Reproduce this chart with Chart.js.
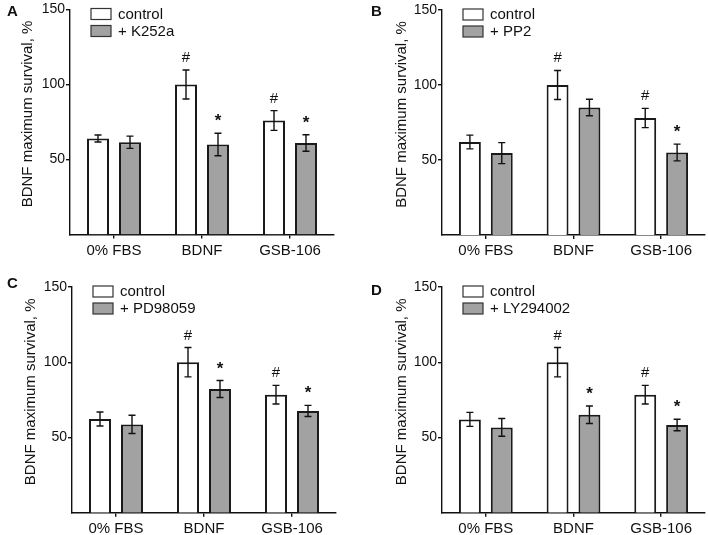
<!DOCTYPE html>
<html>
<head>
<meta charset="utf-8">
<script src="https://cdn.jsdelivr.net/npm/chart.js@4.4.1/dist/chart.umd.min.js"></script>
<style>
  html, body { margin: 0; padding: 0; background: #fff; }
  #wrap { position: relative; width: 708px; height: 535px; overflow: hidden; }
  canvas { position: absolute; }
</style>
</head>
<body>
<div id="wrap">
  <canvas id="pA" width="354" height="267" style="left:0;top:0"></canvas>
  <canvas id="pB" width="354" height="267" style="left:354px;top:0"></canvas>
  <canvas id="pC" width="354" height="268" style="left:0;top:267px"></canvas>
  <canvas id="pD" width="354" height="268" style="left:354px;top:267px"></canvas>
</div>
<script>
"use strict";

const categories = ["0% FBS", "BDNF", "GSB-106"];
const yTicks = [50, 100, 150];
const yTitle = "BDNF maximum survival, %";

// panel A: K252a
const ctrlA = [64, 100, 76];
const ctrlErrA = [2.3, 9.7, 6.6];
const ctrlMarkA = ["", "#", "#"];
const drugA = [61.5, 60, 61];
const drugErrA = [4.1, 7.5, 5.5];
const drugMarkA = ["", "*", "*"];

// panel B: PP2
const ctrlB = [62, 100, 78];
const ctrlErrB = [4.6, 9.7, 6.4];
const ctrlMarkB = ["", "#", "#"];
const drugB = [54.6, 85, 55];
const drugErrB = [7, 5.5, 5.6];
const drugMarkB = ["", "", "*"];

// panel C: PD98059
const ctrlC = [62.3, 100, 78.4];
const ctrlErrC = [4.65, 9.75, 6.2];
const ctrlMarkC = ["", "#", "#"];
const drugC = [58.7, 82.2, 67.6];
const drugErrC = [6.1, 5.65, 3.7];
const drugMarkC = ["", "*", "*"];

// panel D: LY294002
const ctrlD = [62, 100, 78.4];
const ctrlErrD = [4.65, 9.75, 6.2];
const ctrlMarkD = ["", "#", "#"];
const drugD = [56.7, 65.1, 58.3];
const drugErrD = [5.9, 5.8, 3.8];
const drugMarkD = ["", "*", "*"];

const FONT = "'Liberation Sans', Arial, sans-serif";
const GRAY = "#a2a2a2";
const EDGE = "#1a1a1a";

// chart-area geometry inside each canvas
const panels = [
  { id: "pA", letter: "A", drug: "+ K252a", h: 267, left: 70, top: 9.5, right: 334, bottom: 234.5, titleX: 27.5, letterX: 7, letterY: 12,
    ctrl: ctrlA, ctrlErr: ctrlErrA, ctrlMark: ctrlMarkA, val: drugA, err: drugErrA, mark: drugMarkA },
  { id: "pB", letter: "B", drug: "+ PP2", h: 267, left: 88, top: 10, right: 351, bottom: 235, titleX: 47.5, letterX: 17, letterY: 12,
    ctrl: ctrlB, ctrlErr: ctrlErrB, ctrlMark: ctrlMarkB, val: drugB, err: drugErrB, mark: drugMarkB },
  { id: "pC", letter: "C", drug: "+ PD98059", h: 268, left: 72, top: 20, right: 336, bottom: 245.7, titleX: 31, letterX: 7, letterY: 17,
    ctrl: ctrlC, ctrlErr: ctrlErrC, ctrlMark: ctrlMarkC, val: drugC, err: drugErrC, mark: drugMarkC },
  { id: "pD", letter: "D", drug: "+ LY294002", h: 268, left: 88, top: 20, right: 351, bottom: 245.7, titleX: 47.5, letterX: 17, letterY: 23.5,
    ctrl: ctrlD, ctrlErr: ctrlErrD, ctrlMark: ctrlMarkD, val: drugD, err: drugErrD, mark: drugMarkD },
];

const decor = {
  id: "decor",
  afterDatasetsDraw(chart, args, opts) {
    const ctx = chart.ctx;
    const a = chart.chartArea;
    const y = chart.scales.y;
    ctx.save();

    // error bars and significance marks
    chart.data.datasets.forEach((ds, i) => {
      const meta = chart.getDatasetMeta(i);
      meta.data.forEach((bar, j) => {
        const v = ds.data[j], e = ds.errors[j];
        const yt = y.getPixelForValue(v + e), yb = y.getPixelForValue(v - e);
        ctx.strokeStyle = "#111";
        ctx.lineWidth = 1.4;
        ctx.beginPath();
        ctx.moveTo(bar.x, yt); ctx.lineTo(bar.x, yb);
        ctx.moveTo(bar.x - 3.5, yt); ctx.lineTo(bar.x + 3.5, yt);
        ctx.moveTo(bar.x - 3.5, yb); ctx.lineTo(bar.x + 3.5, yb);
        ctx.stroke();
        const m = ds.marks[j];
        if (m) {
          ctx.fillStyle = "#111";
          ctx.font = (m === "*" ? "bold 17px " : "15px ") + FONT;
          ctx.textAlign = "center";
          ctx.textBaseline = "alphabetic";
          ctx.fillText(m, bar.x, yt - (m === "*" ? 7 : 8));
        }
      });
    });

    // legend
    ctx.font = "15px " + FONT;
    ctx.textAlign = "left";
    ctx.textBaseline = "middle";
    chart.data.datasets.forEach((ds, i) => {
      const bx = a.left + 21, by = a.top - 1 + i * 17;
      ctx.fillStyle = ds.backgroundColor;
      ctx.fillRect(bx, by, 20, 11);
      ctx.strokeStyle = "#333";
      ctx.lineWidth = 1.2;
      ctx.strokeRect(bx, by, 20, 11);
      ctx.fillStyle = "#111";
      ctx.fillText(ds.label, bx + 27, by + 6);
    });

    // panel letter
    ctx.font = "bold 15px " + FONT;
    ctx.fillText(opts.letter, opts.letterX, opts.letterY);

    // y title
    ctx.translate(opts.titleX, (a.top + a.bottom) / 2 - 8);
    ctx.rotate(-Math.PI / 2);
    ctx.font = "15px " + FONT;
    ctx.textAlign = "center";
    ctx.fillText(yTitle, 0, 0);
    ctx.restore();
  },
};

function makeChart(p) {
  return new Chart(document.getElementById(p.id), {
    type: "bar",
    data: {
      labels: categories,
      datasets: [
        { label: "control", data: p.ctrl, errors: p.ctrlErr, marks: p.ctrlMark,
          backgroundColor: "#ffffff", borderColor: EDGE, borderWidth: 2 },
        { label: p.drug, data: p.val, errors: p.err, marks: p.mark,
          backgroundColor: GRAY, borderColor: EDGE, borderWidth: 2 },
      ],
    },
    options: {
      responsive: false,
      animation: false,
      events: [],
      layout: { padding: { left: 0, top: p.top, right: 354 - p.right, bottom: 0 } },
      datasets: { bar: { categoryPercentage: 0.727, barPercentage: 0.6875 } },
      scales: {
        x: {
          afterFit: (s) => { s.height = p.h - p.bottom; },
          grid: { drawOnChartArea: false, offset: false, tickLength: 4, color: "#111", lineWidth: 1.4 },
          border: { color: "#111", width: 1.4 },
          ticks: { color: "#111", padding: 3, maxRotation: 0, font: { family: FONT, size: 15 } },
        },
        y: {
          min: 0, max: 150,
          afterFit: (s) => { s.width = p.left; },
          afterBuildTicks: (s) => { s.ticks = yTicks.map(v => ({ value: v })); },
          grid: { drawOnChartArea: false, tickLength: 4, color: "#111", lineWidth: 1.4 },
          border: { color: "#111", width: 1.4 },
          ticks: { color: "#111", padding: 1, font: { family: FONT, size: 14 } },
        },
      },
      plugins: {
        legend: { display: false },
        tooltip: { enabled: false },
        decor: { letter: p.letter, letterX: p.letterX, letterY: p.letterY, titleX: p.titleX },
      },
    },
    plugins: [decor],
  });
}

document.fonts.ready.then(() => panels.forEach(makeChart));
</script>
</body>
</html>
